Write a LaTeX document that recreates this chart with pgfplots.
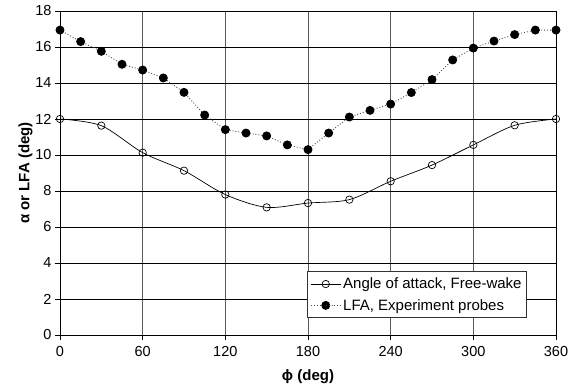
\documentclass[border=0pt]{standalone}
\usepackage{fontspec}
\setmainfont{Liberation Sans}
\usepackage{pgfplots}
\pgfplotsset{compat=1.18}
\usetikzlibrary{calc}
\begin{document}
\begin{tikzpicture}
\begin{axis}[
  scale only axis,
  width=496pt, height=324pt,
  xmin=0, xmax=360, ymin=0, ymax=18,
  xtick={0,60,...,360}, ytick={0,2,...,18},
  /pgf/number format/assume math mode=true,
  tick label style={font=\fontsize{14.5}{16}\selectfont},
  xticklabel style={yshift=-3pt},
  label style={font=\fontsize{15}{17}\selectfont\bfseries},
  xlabel={ϕ (deg)}, ylabel={α or LFA (deg)},
  xlabel style={yshift=-6pt},
  ylabel style={yshift=-4pt},
  tick align=outside, tick pos=left,
  major tick length=5pt,
  grid=major,
  x grid style={gray!70!black, line width=0.7pt},
  y grid style={black, line width=0.7pt},
  axis line style={black, line width=0.9pt},
  tick style={black, line width=0.8pt},
  legend style={at={(0.9415,0.0525)}, anchor=south east,
    font=\fontsize{15}{17}\selectfont, draw=black!80, line width=0.8pt,
    inner xsep=3pt, inner ysep=4pt, row sep=5pt},
  legend cell align=left,
  legend image code/.code={
    \draw[#1] (0cm,0cm) -- (0.525cm,0cm);
    \draw[#1, only marks] plot coordinates {(0.525cm,0cm)};
    \draw[#1] (0.525cm,0cm) -- (1.05cm,0cm);
  },
]
\addplot[black, line width=0.7pt, smooth, mark=o, mark size=3.7pt,
  mark options={solid, fill=white, line width=0.7pt}]
coordinates {
(0,12.0) (30,11.63) (60,10.13) (90,9.13) (120,7.8) (150,7.09) (180,7.33)
(210,7.52) (240,8.54) (270,9.44) (300,10.56) (330,11.65) (360,12.0)
};
\addlegendentry{Angle of attack, Free-wake}
\addplot[black!70, line width=0.9pt, dotted, mark=*, mark size=4pt,
  mark options={solid, fill=black, draw=black}]
coordinates {
(0,16.94) (15,16.3) (30,15.76) (45,15.04) (60,14.72) (75,14.28) (90,13.48)
(105,12.22) (120,11.41) (135,11.22) (150,11.06) (165,10.56) (180,10.3)
(195,11.22) (210,12.11) (225,12.48) (240,12.83) (255,13.47) (270,14.19)
(285,15.28) (300,15.94) (315,16.33) (330,16.69) (345,16.94) (360,16.94)
};
\addlegendentry{LFA, Experiment probes}
\end{axis}
\pgfresetboundingbox
\path ($(current axis.south west)+(-60pt,-54pt)$) rectangle ($(current axis.north east)+(17pt,11pt)$);
\end{tikzpicture}
\end{document}
